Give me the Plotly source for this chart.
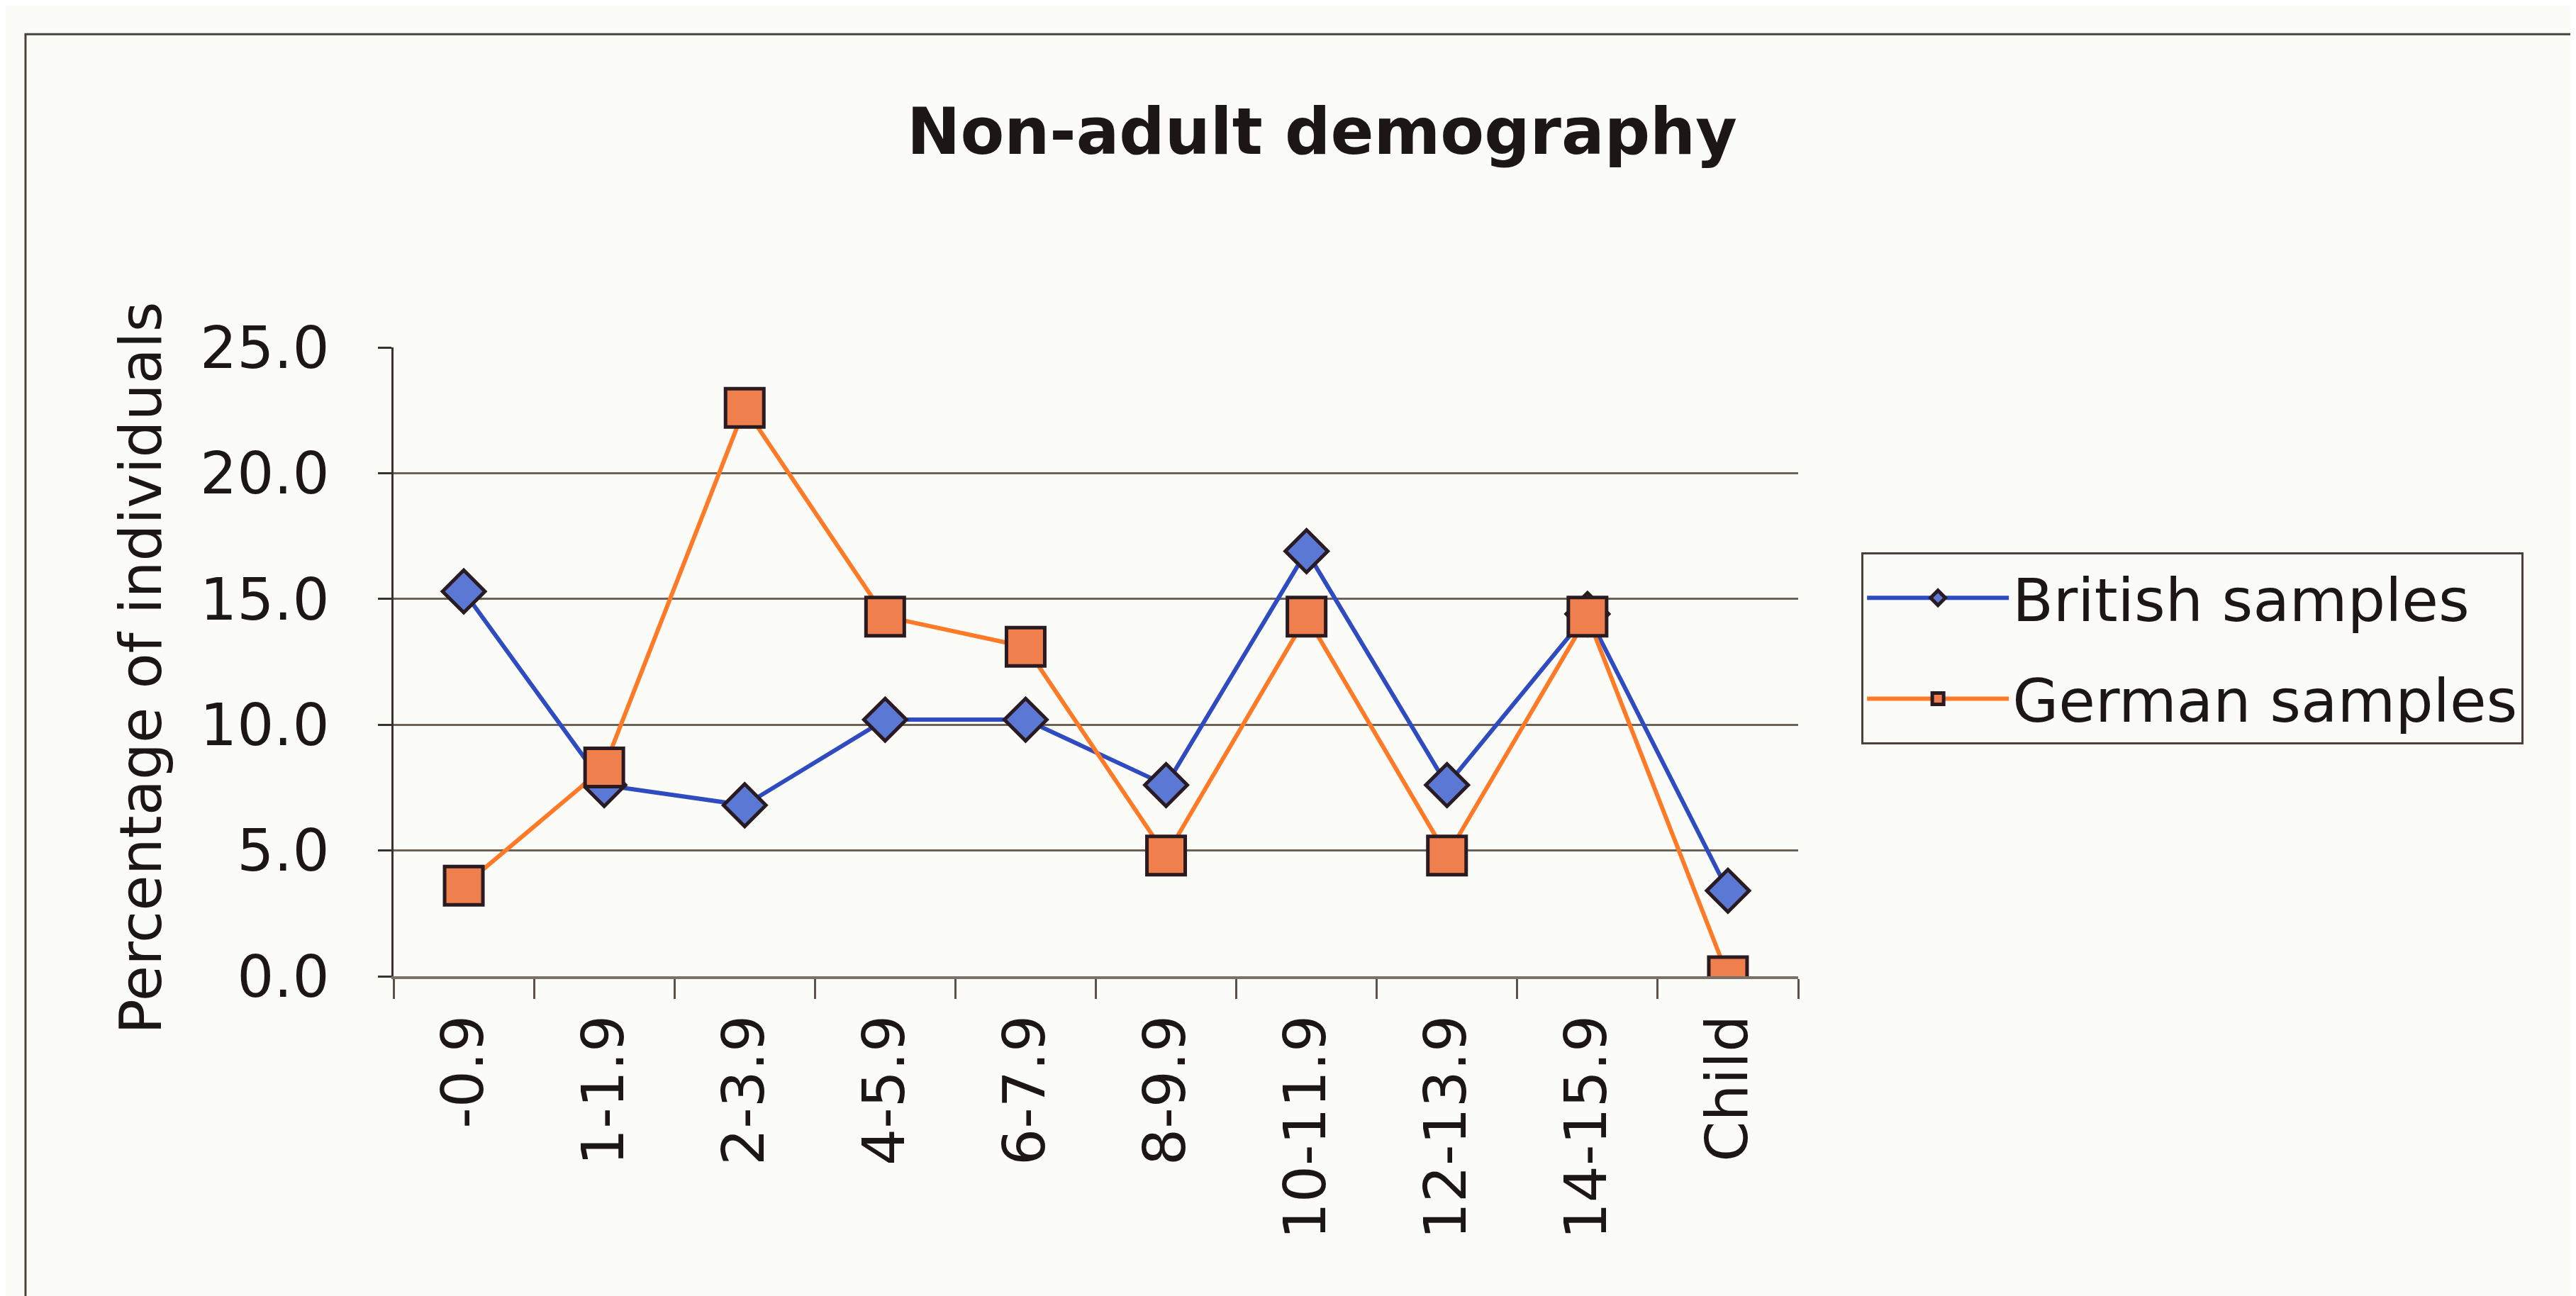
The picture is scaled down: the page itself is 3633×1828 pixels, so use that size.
import plotly.graph_objects as go

# age classes (years) and percentage of non-adults in each
age_groups = ["-0.9", "1-1.9", "2-3.9", "4-5.9", "6-7.9", "8-9.9",
              "10-11.9", "12-13.9", "14-15.9", "Child"]
british = [15.3, 7.6, 6.8, 10.2, 10.2, 7.6, 16.9, 7.6, 14.4, 3.4]
german = [3.6, 8.3, 22.6, 14.3, 13.1, 4.8, 14.3, 4.8, 14.3, 0.0]

y_ticks = [0, 5, 10, 15, 20, 25]
grid_ticks = [5, 10, 15, 20]

font = "DejaVu Sans"
ink = "#1c1616"
bg = "#fbfbf8"

fig = go.Figure()

fig.add_trace(go.Scatter(
    x=age_groups, y=british, mode="lines+markers", name="British samples",
    legendgroup="b",
    line=dict(color="#2f4bc0", width=6),
    marker=dict(symbol="diamond", size=46, color="#5b79d4",
                line=dict(color="#2a1a22", width=5)),
))
fig.add_trace(go.Scatter(
    x=age_groups, y=german, mode="lines+markers", name="German samples",
    legendgroup="g",
    line=dict(color="#ff7a26", width=6),
    marker=dict(symbol="square", size=54, color="#ef7f4c",
                line=dict(color="#2a1a22", width=5)),
))

# invisible trace on the overlay axis so its gridlines get drawn
fig.add_trace(go.Scatter(x=age_groups, y=british, yaxis="y2", mode="none",
                         showlegend=False, hoverinfo="skip"))

fig.update_layout(
    width=3633, height=1828,
    margin=dict(l=547, r=1105, t=482, b=459, autoexpand=False),
    paper_bgcolor=bg, plot_bgcolor=bg,
    font=dict(family=font, color=ink, size=82),
    title=dict(text="<b>Non-adult demography</b>", x=0.511, xanchor="center",
               xref="container", y=0.903, yanchor="middle",
               font=dict(size=90, family=font, color=ink)),
    xaxis=dict(type="category", range=[-0.5, 9.5], tickson="boundaries",
               ticks="outside", ticklen=28, tickwidth=3, tickcolor="#5a524a",
               showline=True, linecolor="#7a7268", linewidth=4,
               showgrid=False, tickangle=-90, tickfont=dict(size=82),
               ticklabelstandoff=18),
    yaxis=dict(range=[0, 25], tickvals=y_ticks, tickformat=".1f",
               ticks="outside", ticklen=19, tickwidth=3, tickcolor="#3a322c",
               showline=True, linecolor="#3a322c", linewidth=3,
               showgrid=False, zeroline=False, tickfont=dict(size=82),
               ticklabelstandoff=52),
    yaxis2=dict(range=[0, 25], overlaying="y", tickvals=grid_ticks,
                showticklabels=False, showgrid=True, gridcolor="#6b6358",
                gridwidth=3, zeroline=False, ticks=""),
    legend=dict(x=1.045, xanchor="left", y=0.674, yanchor="top",
                bgcolor=bg, bordercolor="#4a423a", borderwidth=3,
                font=dict(size=84, family=font, color=ink),
                itemwidth=200, tracegroupgap=30),
    showlegend=True,
)

fig.add_annotation(text="Percentage of individuals", textangle=-90,
                   xref="paper", yref="paper", x=-0.205, y=0.49,
                   showarrow=False, font=dict(size=82, family=font, color=ink))

# outer chart frame, running off the right and bottom edges like the scan
fig.add_shape(type="rect", xref="paper", yref="paper",
              x0=-0.262, x1=2.0, y0=-2.0, y1=1.498,
              line=dict(color="#4a423a", width=3), layer="below")

fig.write_html("out.html")
